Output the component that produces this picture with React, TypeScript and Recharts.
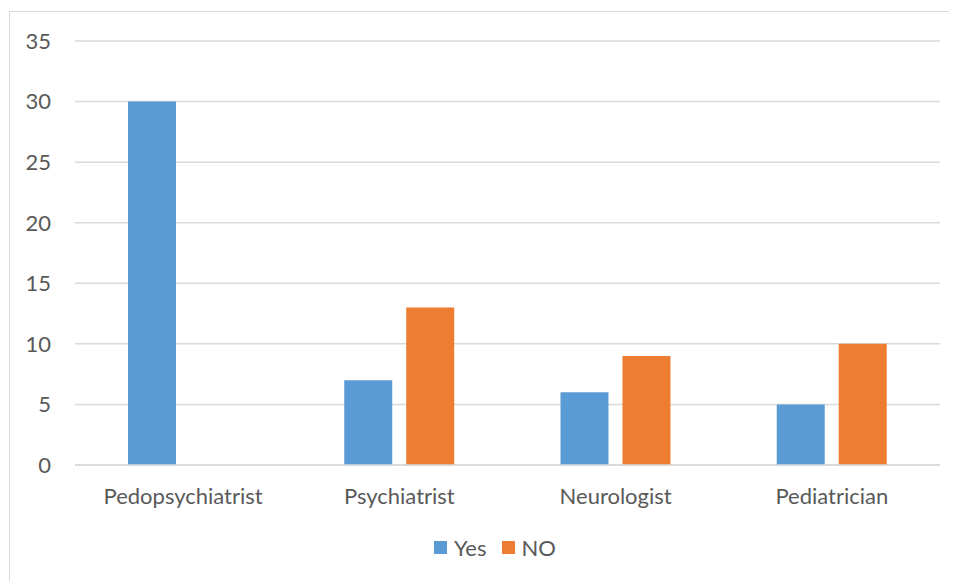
import { BarChart, Bar, XAxis, YAxis, CartesianGrid } from 'recharts'

const specialties = ['Pedopsychiatrist', 'Psychiatrist', 'Neurologist', 'Pediatrician']
const yesCounts = [30, 7, 6, 5]
const noCounts = [0, 13, 9, 10]
const yTicks = [0, 5, 10, 15, 20, 25, 30, 35]

const BLUE = '#5B9BD5'
const ORANGE = '#ED7D31'
const TEXT = '#595959'
const GRID = '#d9d9d9'
const FONT = 'Lato, "Open Sans", sans-serif'

const data = specialties.map((name, i) => ({
  name,
  Yes: yesCounts[i],
  NO: noCounts[i],
}))

const series = [
  { key: 'Yes', color: BLUE },
  { key: 'NO', color: ORANGE },
]

function LegendRow() {
  return (
    <div
      style={{
        position: 'absolute',
        left: 0,
        right: 0,
        top: 526,
        display: 'flex',
        justifyContent: 'center',
        paddingLeft: 40,
        fontFamily: FONT,
        fontSize: 22,
        color: TEXT,
      }}
    >
      {series.map((s) => (
        <div key={s.key} style={{ display: 'flex', alignItems: 'center', marginRight: 15 }}>
          <span style={{ width: 13, height: 13, background: s.color, display: 'inline-block', marginRight: 7 }} />
          <span>{s.key}</span>
        </div>
      ))}
    </div>
  )
}

export default function App() {
  return (
    <div style={{ position: 'relative', width: 949, height: 573, overflow: 'hidden', background: '#fff' }}>
      <div
        style={{
          position: 'absolute',
          left: 1,
          top: 3,
          width: 980,
          height: 620,
          border: `1.5px solid ${GRID}`,
          boxSizing: 'border-box',
        }}
      />
      <BarChart
        width={949}
        height={573}
        data={data}
        margin={{ top: 33, right: 17, bottom: 0, left: 0 }}
        barCategoryGap="24.5%"
        barGap={14}
        style={{ position: 'absolute', left: 0, top: 0 }}
      >
        <CartesianGrid vertical={false} stroke={GRID} strokeWidth={1.5} />
        <XAxis
          dataKey="name"
          axisLine={{ stroke: GRID, strokeWidth: 1.5 }}
          tickLine={false}
          tickSize={0}
          tickMargin={23}
          height={116}
          tick={{ fill: TEXT, fontSize: 22, fontFamily: FONT }}
        />
        <YAxis
          domain={[0, 35]}
          ticks={yTicks}
          axisLine={false}
          tickLine={false}
          tickSize={0}
          tickMargin={24}
          width={67}
          tick={{ fill: TEXT, fontSize: 22, fontFamily: FONT }}
        />
        {series.map((s) => (
          <Bar key={s.key} dataKey={s.key} fill={s.color} isAnimationActive={false} />
        ))}
      </BarChart>
      <LegendRow />
    </div>
  )
}
